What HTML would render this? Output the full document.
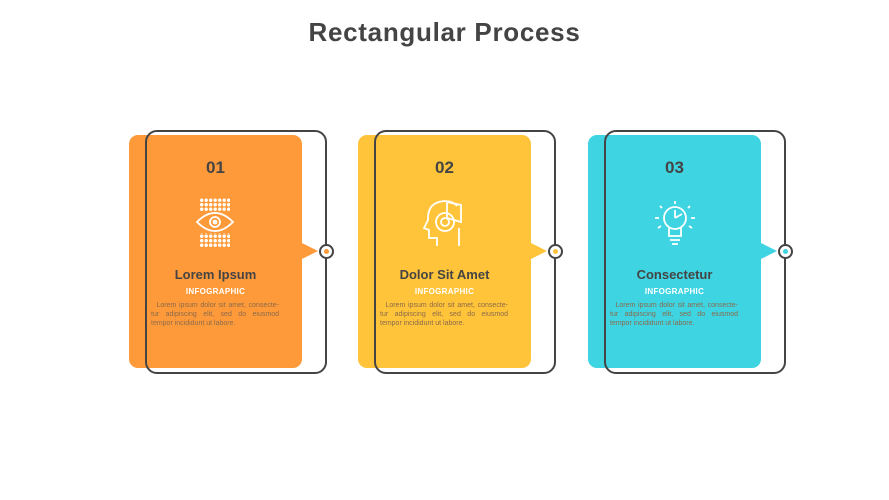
<!DOCTYPE html>
<html><head><style>
body{margin:0;width:889px;height:500px;background:#fff;font-family:"Liberation Sans",sans-serif;position:relative;overflow:hidden}
.t{position:absolute;top:17px;left:0;width:889px;text-align:center;font-size:26px;font-weight:bold;color:#444;letter-spacing:.7px}
.f{position:absolute;top:135px;width:173px;height:233px;border-radius:9px}
.o{position:absolute;top:130px;width:178px;height:240px;border:2px solid #444;border-radius:12px}
.tri{position:absolute;top:243px;width:0;height:0;border-top:8px solid transparent;border-bottom:8px solid transparent;border-left:16px solid}
.c{position:absolute;top:244px;width:11px;height:11px;border:2px solid #444;border-radius:50%;background:#fff}
.c i{position:absolute;left:3px;top:3px;width:5px;height:5px;border-radius:50%}
.n{position:absolute;top:158px;width:173px;text-align:center;font-size:17px;color:#444;font-weight:bold}
.h{position:absolute;top:267px;width:173px;text-align:center;font-size:13px;font-weight:bold;color:#444}
.s{position:absolute;top:287px;width:173px;text-align:center;font-size:8px;font-weight:bold;color:#fff;letter-spacing:.3px}
.b{position:absolute;top:301px;width:128px;font-size:7px;line-height:9px;color:#8a6a4a}
.b div{text-align:justify;text-align-last:justify;height:9px}
.b div:last-child{text-align-last:left}
svg.i{position:absolute;top:198px}
</style></head><body>
<div class="t">Rectangular Process</div>

<div class="f" style="left:129px;background:#FF9A3A"></div>
<div class="tri" style="left:302px;border-left-color:#FF9A3A"></div>
<div class="o" style="left:145px"></div>
<div class="c" style="left:319px"><i style="background:#FF9A3A"></i></div>
<div class="n" style="left:129px">01</div>
<svg class="i" style="left:195px" width="40" height="50" viewBox="0 0 40 50" fill="none" stroke="#fff" stroke-width="1.8">
<defs><pattern id="d" width="4.5" height="4.5" patternUnits="userSpaceOnUse"><circle cx="2.2" cy="2.2" r="0.8" fill="#fff"/></pattern></defs>
<rect x="5" y="0" width="30" height="13" fill="url(#d)" stroke="none"/><rect x="5" y="35" width="30" height="15" fill="url(#d)" stroke="none"/>
<path d="M2 24 Q20 6 38 24 Q20 42 2 24Z" fill="#FF9A3A"/><circle cx="20" cy="24" r="5"/><circle cx="20" cy="24" r="1.5" fill="#fff"/></svg>
<div class="h" style="left:129px">Lorem Ipsum</div>
<div class="s" style="left:129px">INFOGRAPHIC</div>
<div class="b" style="left:151px"><div>&nbsp;&nbsp;Lorem ipsum dolor sit amet, consecte-</div><div>tur adipiscing elit, sed do eiusmod</div><div>tempor incididunt ut labore.</div></div>

<div class="f" style="left:358px;background:#FFC43A"></div>
<div class="tri" style="left:531px;border-left-color:#FFC43A"></div>
<div class="o" style="left:374px"></div>
<div class="c" style="left:548px"><i style="background:#FFC43A"></i></div>
<div class="n" style="left:358px">02</div>
<svg class="i" style="left:421px" width="46" height="50" viewBox="0 0 46 50" fill="none" stroke="#fff" stroke-width="1.8">
<path d="M16 48 V40 H8 V32 L3 30 L7 22 Q6 4 24 3 Q32 3 36 8"/><path d="M38 30 V48"/><circle cx="24" cy="24" r="9"/><circle cx="24" cy="24" r="4"/><path d="M26 4 L40 7 L40 24 L26 20Z"/></svg>
<div class="h" style="left:358px">Dolor Sit Amet</div>
<div class="s" style="left:358px">INFOGRAPHIC</div>
<div class="b" style="left:380px"><div>&nbsp;&nbsp;Lorem ipsum dolor sit amet, consecte-</div><div>tur adipiscing elit, sed do eiusmod</div><div>tempor incididunt ut labore.</div></div>

<div class="f" style="left:588px;background:#3FD4E2"></div>
<div class="tri" style="left:761px;border-left-color:#3FD4E2"></div>
<div class="o" style="left:604px"></div>
<div class="c" style="left:778px"><i style="background:#3FD4E2"></i></div>
<div class="n" style="left:588px">03</div>
<svg class="i" style="left:652px" width="46" height="50" viewBox="0 0 46 50" fill="none" stroke="#fff" stroke-width="1.8">
<circle cx="23" cy="20" r="11"/><path d="M17 30 V38 H29 V30"/><path d="M18 42 H28 M20 46 H26"/><path d="M23 20 V12 M23 20 L30 16"/>
<path d="M23 3 V6 M8 8 L10 10 M38 8 L36 10 M3 20 H7 M39 20 H43 M6 30 L9 28 M40 30 L37 28"/></svg>
<div class="h" style="left:588px">Consectetur</div>
<div class="s" style="left:588px">INFOGRAPHIC</div>
<div class="b" style="left:610px"><div>&nbsp;&nbsp;Lorem ipsum dolor sit amet, consecte-</div><div>tur adipiscing elit, sed do eiusmod</div><div>tempor incididunt ut labore.</div></div>
</body></html>
